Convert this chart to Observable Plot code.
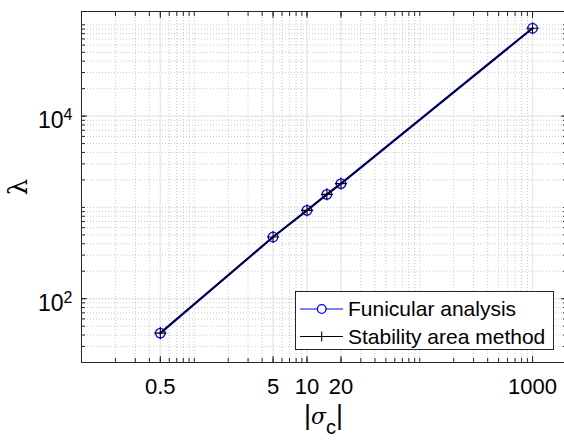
<!DOCTYPE html>
<html><head><meta charset="utf-8">
<script src="https://cdn.jsdelivr.net/npm/d3@7"></script>
<script src="https://cdn.jsdelivr.net/npm/@observablehq/plot@0.6"></script>
<style>
body{margin:0;background:#fff}
#chart svg{display:block;overflow:hidden}
</style>
</head><body><div id="chart"></div>
<script>
// ---- data ----
const sigma = [0.5, 5, 10, 15, 20, 1000];
const funicular = [42, 474, 929, 1390, 1820, 91800];
const stability = [42, 474, 929, 1390, 1820, 91800];
const seriesNames = ["Funicular analysis", "Stability area method"];
const xTicks = [0.5, 5, 10, 20, 1000];
const xTickLabels = ["0.5", "5", "10", "20", "1000"];
const yTicks = [100, 10000];
const yTickLabels = ["10^2", "10^4"];

// minor (log) ticks: 1..9 times each decade
function minorTicks(lo, hi) {
  const out = [];
  for (let e = -2; e <= 6; e++) for (let m = 1; m <= 9; m++) {
    const v = m * Math.pow(10, e);
    if (v >= lo * 0.999 && v <= hi * 1.001) out.push(+v.toPrecision(6));
  }
  return out;
}
const minorX = minorTicks(0.2, 2000);
const minorY = minorTicks(20, 100000);

const fun = sigma.map((s, i) => ({s, v: funicular[i]}));
const stab = sigma.map((s, i) => ({s, v: stability[i]}));
const xLab = xTicks.map((t, i) => ({t, label: xTickLabels[i]}));

const axisColor = "#262626";
const font = "'Liberation Sans', Arial, Helvetica, sans-serif";

const plot = Plot.plot({
  width: 564, height: 442,
  marginLeft: 81, marginRight: -2, marginTop: 11, marginBottom: 80,
  style: {fontFamily: font, background: "white", color: axisColor},
  x: {type: "log", domain: [0.1, 2000]},
  y: {type: "log", domain: [20, 140000]},
  marks: [
    Plot.gridX(minorX, {stroke: "#9a9a9a", strokeOpacity: 0.55, strokeDasharray: "1,2"}),
    Plot.gridY(minorY, {stroke: "#9a9a9a", strokeOpacity: 0.55, strokeDasharray: "1,2"}),
    Plot.gridX(xTicks, {stroke: "#e6e6e6", strokeOpacity: 1}),
    Plot.gridY(yTicks, {stroke: "#e6e6e6", strokeOpacity: 1}),
    Plot.line(fun, {x: "s", y: "v", stroke: "#0000ff", strokeWidth: 2.2}),
    Plot.dot(fun, {x: "s", y: "v", r: 4.8, stroke: "#0000ff", strokeWidth: 1.3, fill: "none"}),
    Plot.line(stab, {x: "s", y: "v", stroke: "#000", strokeWidth: 1.4}),
    Plot.dot(stab, {x: "s", y: "v", symbol: "plus", r: 4, stroke: "#000", strokeWidth: 1.1}),
    // inward minor ticks
    Plot.axisX(minorX, {anchor: "bottom", tickSize: -4, text: null, label: null, stroke: axisColor}),
    Plot.axisX(minorX, {anchor: "top", tickSize: -4, text: null, label: null, stroke: axisColor}),
    Plot.axisY(minorY, {anchor: "left", tickSize: -4, text: null, label: null, stroke: axisColor}),
    Plot.axisY(minorY, {anchor: "right", tickSize: -4, text: null, label: null, stroke: axisColor}),
    // major ticks
    Plot.axisX(xTicks, {anchor: "bottom", tickSize: -6, text: null, label: null, stroke: axisColor}),
    Plot.axisX(xTicks, {anchor: "top", tickSize: -6, text: null, label: null, stroke: axisColor}),
    Plot.axisY(yTicks, {anchor: "left", tickSize: -6, text: null, label: null, stroke: axisColor}),
    Plot.axisY(yTicks, {anchor: "right", tickSize: -6, text: null, label: null, stroke: axisColor}),
    // tick labels
    Plot.text(xLab, {x: "t", text: "label", frameAnchor: "bottom", lineAnchor: "top", dy: 16,
      fontSize: 22, fill: "#000"}),
    Plot.axisY(yTicks, {anchor: "left", tickSize: 0, tickPadding: 9, label: null, fontSize: 23, dy: 5,
      fill: "#000", tickFormat: (d) => yTickLabels[yTicks.indexOf(d)]}),
    Plot.frame({stroke: axisColor, strokeWidth: 1})
  ]
});

const svg = d3.select(plot);
// superscript exponents
svg.selectAll('[aria-label="y-axis tick label"] text').each(function () {
  const parts = this.textContent.split("^");
  const t = d3.select(this);
  t.text(null);
  t.append("tspan").text(parts[0]);
  t.append("tspan").attr("dy", "-0.5em").attr("font-size", "16px").text(parts[1]);
});

// axis titles
const xl = svg.append("text")
  .attr("x", 323.5).attr("y", 424).attr("text-anchor", "middle")
  .attr("font-family", font).attr("font-size", 27).attr("fill", "#000");
xl.append("tspan").text("|");
xl.append("tspan").attr("font-style", "italic").attr("font-family", "'DejaVu Serif', serif").attr("font-size", 22).text("σ");
xl.append("tspan").attr("dy", 10).attr("font-size", 20).text("c");
xl.append("tspan").attr("dy", -10).text("|");

const yg = svg.append("g").attr("transform", "translate(27,187)");
yg.append("text")
  .attr("transform", "rotate(-90)")
  .attr("text-anchor", "middle").attr("font-family", "'DejaVu Serif', serif")
  .attr("font-size", 26).attr("fill", "#000").text("λ");

// legend (inside the axes, lower right)
const lg = svg.append("g").attr("font-family", font).attr("font-size", 21).attr("text-anchor", "start");
lg.append("rect").attr("x", 295.5).attr("y", 291.5).attr("width", 258).attr("height", 58)
  .attr("fill", "#fff").attr("stroke", axisColor).attr("stroke-width", 1);
const rows = [
  {name: seriesNames[0], color: "#0000ff", mark: "circle", y: 309},
  {name: seriesNames[1], color: "#000", mark: "plus", y: 336.5}
];
rows.forEach(r => {
  lg.append("line").attr("x1", 300).attr("x2", 343).attr("y1", r.y).attr("y2", r.y)
    .attr("stroke", r.color).attr("stroke-width", 1.2);
  if (r.mark === "circle") {
    lg.append("circle").attr("cx", 321.7).attr("cy", r.y).attr("r", 4.3)
      .attr("fill", "#fff").attr("stroke", r.color).attr("stroke-width", 1.3);
  } else {
    lg.append("path").attr("d", `M316.7,${r.y}H326.7M321.7,${r.y - 5}V${r.y + 5}`)
      .attr("stroke", r.color).attr("stroke-width", 1.1);
  }
  lg.append("text").attr("x", 348).attr("y", r.y).attr("dy", "0.35em").attr("fill", "#000")
    .attr("text-anchor", "start").text(r.name);
});

document.getElementById("chart").appendChild(plot);
</script>
</body></html>
